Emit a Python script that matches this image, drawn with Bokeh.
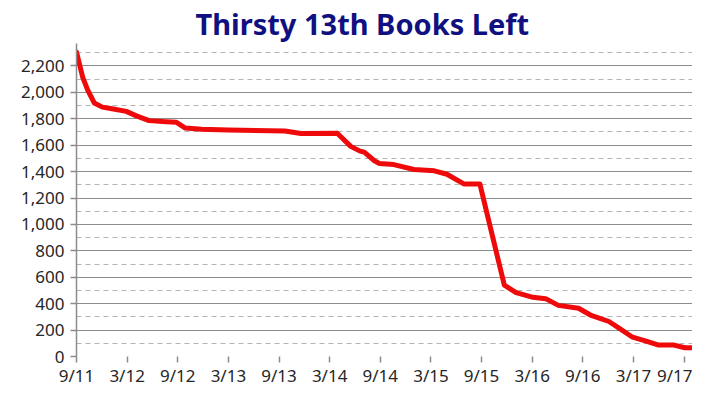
from bokeh.plotting import figure
from bokeh.models import FixedTicker, NumeralTickFormatter, Range1d, Title
from bokeh.embed import file_html
from bokeh.resources import INLINE

# months since Sep 2011
months = [0, 0.74, 1.33, 2.1, 3.06, 4.2, 5.9, 7.1, 8.6, 10.6, 11.8, 12.9, 14.8,
          18.0, 24.7, 26.6, 30.9, 32.5, 33.6, 34.1, 35.3, 35.9, 37.6, 40.0,
          42.4, 43.9, 45.9, 47.8, 50.7, 52.1, 54.1, 55.6, 57.1, 59.5, 60.9,
          63.1, 64.2, 65.9, 67.4, 68.9, 70.7, 72.1, 72.9]
books = [2305, 2114, 2017, 1920, 1888, 1876, 1856, 1822, 1786, 1778, 1774, 1730,
         1720, 1715, 1708, 1688, 1690, 1591, 1555, 1547, 1482, 1462, 1453, 1416,
         1406, 1380, 1307, 1307, 540, 484, 448, 438, 387, 365, 314,
         265, 219, 146, 119, 88, 88, 66, 66]

tick_months = [0, 6, 12, 18, 24, 30, 36, 42, 48, 54, 60, 66, 72]
tick_labels = ["9/11", "3/12", "9/12", "3/13", "9/13", "3/14", "9/14",
               "3/15", "9/15", "3/16", "9/16", "3/17", "9/17"]
y_major = list(range(0, 2201, 200))
y_minor = list(range(100, 2301, 200))

FONT = "Noto Sans"

p = figure(width=692, height=389, output_backend="svg", toolbar_location=None,
           x_range=Range1d(0, 73.0), y_range=Range1d(0, 2370),
           min_border_left=76, min_border_right=0, min_border_top=39,
           min_border_bottom=26)
p.outline_line_color = None

title = Title(text="Thirsty 13th Books Left", align="left", offset=119,
              text_font=FONT, text_font_size="29px", text_font_style="bold",
              text_color="#101080", standoff=2, text_line_height=1.0)
p.add_layout(title, "above")

p.line(months, books, line_color="#ee0a0a", line_width=5, line_join="round",
       line_cap="round")

# axes
p.xaxis.ticker = FixedTicker(ticks=tick_months)
p.xaxis.major_label_overrides = {m: l for m, l in zip(tick_months, tick_labels)}
p.yaxis.ticker = FixedTicker(ticks=y_major, minor_ticks=y_minor)
p.yaxis.formatter = NumeralTickFormatter(format="0,0")
for ax in (p.xaxis[0], p.yaxis[0]):
    ax.axis_line_color = "#8c8c8c"
    ax.axis_line_width = 1.5
    ax.major_tick_line_color = "#8c8c8c"
    ax.major_tick_line_width = 1.5
    ax.major_tick_in = 0
    ax.major_tick_out = 6
    ax.minor_tick_line_color = None
    ax.major_label_text_font = FONT
    ax.major_label_text_font_size = "17px"
    ax.major_label_text_color = "#262626"
p.xaxis.major_label_standoff = 1
p.yaxis.major_label_standoff = 6
p.xaxis.axis_line_color = None

p.xgrid.grid_line_color = None
p.ygrid.grid_line_color = "#8c8c8c"
p.ygrid.grid_line_width = 1.2
p.ygrid.minor_grid_line_color = "#b4b4b4"
p.ygrid.minor_grid_line_dash = "5 4"
p.ygrid.minor_grid_line_width = 1

open("out.html", "w").write(file_html(p, INLINE))
